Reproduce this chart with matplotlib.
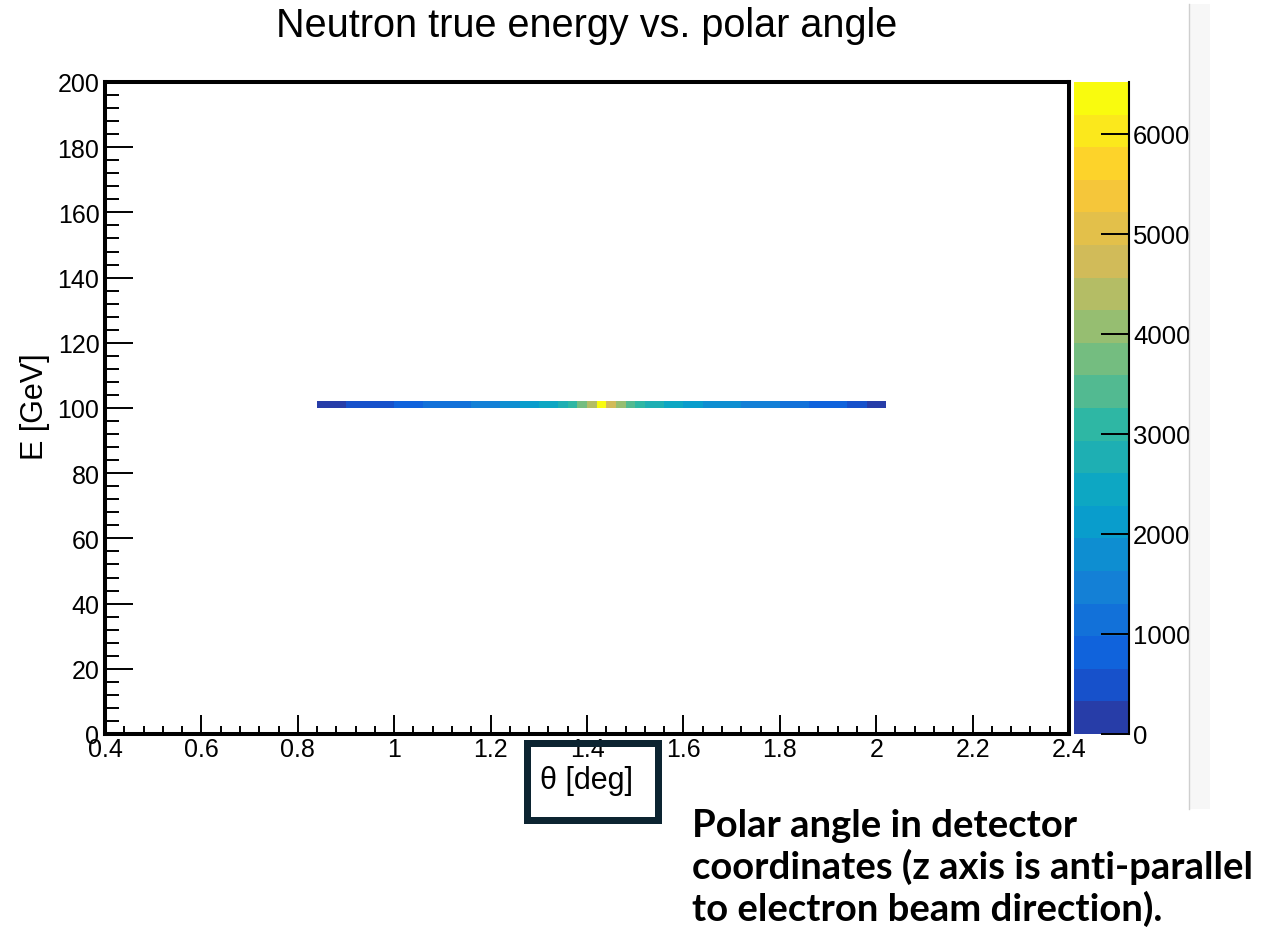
import numpy as np
import matplotlib
matplotlib.use("Agg")
import matplotlib.pyplot as plt
from matplotlib.colors import ListedColormap, BoundaryNorm
from matplotlib.patches import Rectangle
from matplotlib.ticker import MultipleLocator

# ---------------- data ----------------
title = "Neutron true energy vs. polar angle"
xlabel = "\u03b8 [deg]"
ylabel = "E [GeV]"
note = "Polar angle in detector\ncoordinates (z axis is anti-parallel\nto electron beam direction)."

x_range = [0.4, 2.4]
y_range = [0, 200]
theta_first_bin = 0.84
theta_bin_width = 0.02
energy_bin = [100, 102]
counts = [250, 280, 300,
          400, 450, 500, 560, 620,
          700, 800, 900,
          1010, 1070, 1140, 1210, 1280,
          1360, 1460, 1570,
          1700, 1880,
          2050, 2220,
          2380, 2550,
          2800, 3150, 3750, 4400, 6520, 4750, 4100, 3450, 3000,
          2850, 2700,
          2520, 2350,
          2200, 2020,
          1920, 1830, 1740, 1660,
          1600, 1500, 1420, 1330,
          1260, 1150, 1030,
          950, 850, 760, 680,
          600, 420,
          300, 200]
z_max = 6520
n_levels = 20
cbar_ticks = [0, 1000, 2000, 3000, 4000, 5000, 6000]

# ---------------- ROOT kBird palette ----------------
stops = np.linspace(0, 1, 9)
red = [0.2082, 0.0592, 0.0780, 0.0232, 0.1802, 0.5301, 0.8186, 0.9956, 0.9764]
green = [0.1664, 0.3599, 0.5041, 0.6419, 0.7178, 0.7492, 0.7328, 0.7862, 0.9832]
blue = [0.5293, 0.8684, 0.8385, 0.7914, 0.6425, 0.4662, 0.3499, 0.1968, 0.0539]
ncol = 255
level_cols = []
for i in range(n_levels):
    idx = min(int((i + 0.99) * ncol / n_levels), ncol - 1)
    t = idx / (ncol - 1)
    level_cols.append((np.interp(t, stops, red), np.interp(t, stops, green), np.interp(t, stops, blue)))
cmap = ListedColormap(level_cols)
bounds = np.linspace(0, z_max, n_levels + 1)
norm = BoundaryNorm(bounds, cmap.N)

W, H = 1276, 929
fig = plt.figure(figsize=(W / 100, H / 100), dpi=100)
fig.patch.set_facecolor("white")
plt.rcParams['font.family'] = ['Liberation Sans', 'DejaVu Sans']

ax = fig.add_axes([105 / W, 1 - 735 / H, 964 / W, 652 / H])
cax = fig.add_axes([1074 / W, 1 - 735 / H, 55 / W, 652 / H])

nb = len(counts)
x_edges = theta_first_bin + theta_bin_width * np.arange(nb + 1)
y_edges = np.array(energy_bin, dtype=float)
Z = np.array(counts, dtype=float).reshape(1, nb)
Zm = np.ma.masked_where(Z <= 0, Z)
mesh = ax.pcolormesh(x_edges, y_edges, Zm, cmap=cmap, norm=norm, shading='flat')

ax.set_xlim(*x_range)
ax.set_ylim(*y_range)
for s in ax.spines.values():
    s.set_linewidth(2.9)
ax.xaxis.set_major_locator(MultipleLocator(0.2))
ax.xaxis.set_minor_locator(MultipleLocator(0.04))
ax.yaxis.set_major_locator(MultipleLocator(20))
ax.yaxis.set_minor_locator(MultipleLocator(4))
ax.tick_params(axis='x', which='major', direction='in', length=13.7, width=1.4,
               labelsize=18, pad=2, top=False)
ax.tick_params(axis='x', which='minor', direction='in', length=6, width=1.4, top=False)
ax.tick_params(axis='y', which='major', direction='in', length=20, width=1.4,
               labelsize=18, pad=4, right=False)
ax.tick_params(axis='y', which='minor', direction='in', length=10, width=1.4, right=False)
ax.set_xticklabels([("%g" % v) for v in ax.get_xticks()])

fig.text(35 / W, 1 - 407 / H, ylabel, rotation=90, ha='center', va='center', fontsize=22)
fig.text(587 / W, 1 - 781 / H, xlabel, ha='center', va='center', fontsize=22)
fig.text(587 / W, 1 - 26 / H, title, ha='center', va='center', fontsize=28.5)

# box around the x label
lw_px = 7
fig.patches.append(Rectangle(((523 + lw_px / 2) / W, 1 - (824 - lw_px / 2) / H),
                             (138 - lw_px) / W, (84 - lw_px) / H,
                             transform=fig.transFigure, fill=False,
                             edgecolor='#0c2431', linewidth=lw_px * 0.72))

# colorbar
cb = fig.colorbar(mesh, cax=cax, boundaries=bounds, ticks=cbar_ticks)
cb.outline.set_visible(False)
for side in ['left', 'top', 'bottom']:
    cax.spines[side].set_visible(False)
cax.spines['right'].set_visible(True)
cax.spines['right'].set_linewidth(1.5)
cax.tick_params(axis='y', which='major', direction='in', length=20, width=1.4,
                labelsize=18.5, pad=3, right=True, left=False)
cax.tick_params(axis='y', which='minor', length=0)
cax.set_yticklabels([str(t) for t in cbar_ticks])

# right-hand grey strip (screenshot artifact)
strip = fig.add_axes([1189 / W, 1 - 810 / H, 21 / W, 805 / H], zorder=10)
strip.set_facecolor('#f7f7f7')
strip.set_xticks([]); strip.set_yticks([])
for side in ['top', 'right', 'bottom']:
    strip.spines[side].set_visible(False)
strip.spines['left'].set_color('#cfcfcf')
strip.spines['left'].set_linewidth(1.0)

fig.text(692 / W, 1 - 868 / H, note, ha='left', va='center', fontsize=27.5,
         fontweight='bold', family=['Lato', 'DejaVu Sans'], linespacing=1.18)

fig.savefig("out.png", dpi=100, facecolor='white')
